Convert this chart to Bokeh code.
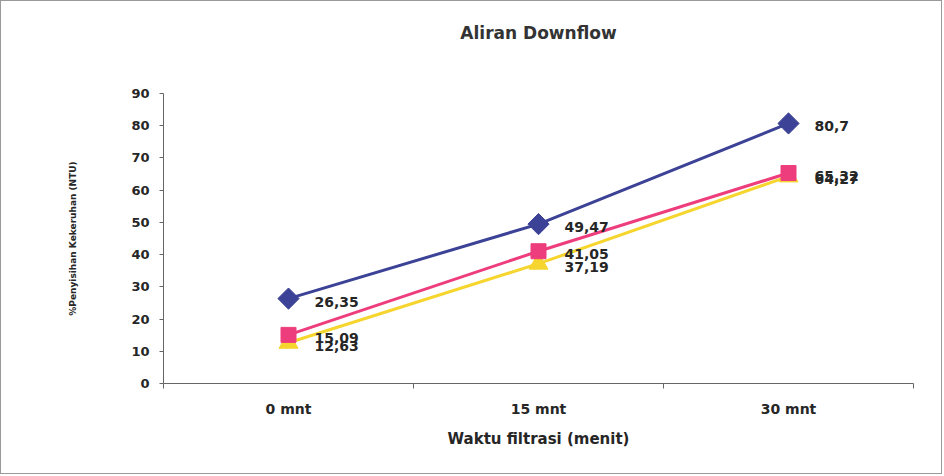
import math
from bokeh.plotting import figure
from bokeh.models import FixedTicker, Range1d, ColumnDataSource, LabelSet, Title
from bokeh.core.properties import value
from bokeh.embed import file_html
from bokeh.resources import INLINE

categories = ["0 mnt", "15 mnt", "30 mnt"]
blue_values = [26.35, 49.47, 80.7]
pink_values = [15.09, 41.05, 65.32]
yellow_values = [12.63, 37.19, 64.27]
y_ticks = [0, 10, 20, 30, 40, 50, 60, 70, 80, 90]

title_text = "Aliran Downflow"
x_title = "Waktu filtrasi (menit)"
y_title = "%Penyisihan Kekeruhan (NTU)"

FONT = "DejaVu Sans"
BLUE = "#3C4396"
PINK = "#EE3D7C"
YELLOW = "#F5D52E"
TXT = "#262626"

x_pos = [i + 0.5 for i in range(len(categories))]

p = figure(width=942, height=474, x_range=Range1d(0, len(categories)),
           y_range=Range1d(0, 90), output_backend="svg", toolbar_location=None,
           title=None,
           min_border_left=162, min_border_right=30, min_border_top=92,
           min_border_bottom=92)
p.styles = {"border": "1px solid #9a9a9a"}
p.outline_line_color = None
p.grid.visible = False
p.background_fill_color = "white"
p.border_fill_color = "white"

# spacer between frame and title, then the title itself (outermost)
p.add_layout(Title(text=" ", standoff=48, text_font_size="1px"), "above")
p.add_layout(Title(text=title_text, align="center", standoff=0,
                   text_font=FONT, text_font_size="17px",
                   text_font_style="bold", text_color="#333333"), "above")

# x axis
xa = p.xaxis[0]
xa.ticker = FixedTicker(ticks=x_pos, minor_ticks=list(range(len(categories) + 1)))
xa.major_label_overrides = {x: c for x, c in zip(x_pos, categories)}
xa.major_tick_line_color = None
xa.major_tick_out = 0
xa.minor_tick_out = 5
xa.minor_tick_in = 0
xa.minor_tick_line_color = "#666666"
xa.axis_line_color = "#666666"
xa.major_label_standoff = 12
xa.major_label_text_font = FONT
xa.major_label_text_font_size = "14px"
xa.major_label_text_font_style = "bold"
xa.major_label_text_color = TXT
xa.axis_label = x_title
xa.axis_label_standoff = 10
xa.axis_label_text_font = FONT
xa.axis_label_text_font_size = "15px"
xa.axis_label_text_font_style = "bold"
xa.axis_label_text_color = TXT

# y axis
ya = p.yaxis[0]
ya.ticker = FixedTicker(ticks=y_ticks)
ya.minor_tick_line_color = None
ya.major_tick_out = 4
ya.major_tick_in = 0
ya.major_tick_line_color = "#666666"
ya.axis_line_color = "#666666"
ya.major_label_standoff = 10
ya.major_label_text_font = FONT
ya.major_label_text_font_size = "13px"
ya.major_label_text_font_style = "bold"
ya.major_label_text_color = TXT
ya.axis_label = y_title
ya.axis_label_standoff = 50
ya.axis_label_text_font = FONT
ya.axis_label_text_font_size = "9px"
ya.axis_label_text_font_style = "bold"
ya.axis_label_text_color = TXT

def fmt(v):
    return f"{v:g}".replace(".", ",")

series = [
    (blue_values, BLUE, "square", 15, math.pi / 4),
    (pink_values, PINK, "square", 15, 0.0),
    (yellow_values, YELLOW, "triangle", 19, 0.0),
]
for vals, col, marker, size, ang in reversed(series):
    src = ColumnDataSource(dict(x=x_pos, y=vals, lab=[fmt(v) for v in vals]))
    p.line("x", "y", source=src, line_color=col, line_width=3)
    p.scatter("x", "y", source=src, marker=marker, size=size, angle=ang,
              fill_color=col, line_color=col)
    p.add_layout(LabelSet(x="x", y="y", text="lab", source=src,
                          x_offset=26, y_offset=-3,
                          text_font=value(FONT), text_font_size=value("14px"),
                          text_font_style="bold", text_color=TXT,
                          text_baseline="middle", text_align="left"))

open("out.html", "w").write(file_html(p, INLINE))
